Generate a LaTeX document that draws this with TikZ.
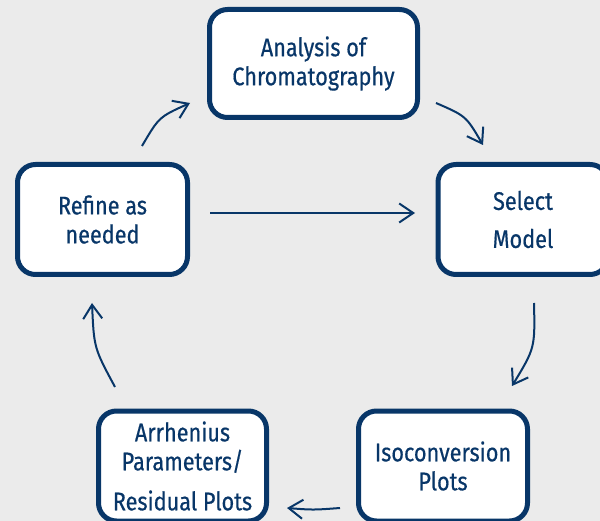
\documentclass[tikz,border=0pt]{standalone}
\usepackage{fontspec}
\setmainfont{Fira Sans}[FakeStretch=0.85,FakeBold=0.5]
\usetikzlibrary{arrows.meta}
\definecolor{navy}{RGB}{8,54,104}
\definecolor{bg}{RGB}{235,235,235}
\tikzset{
  box/.style={draw=navy, line width=5pt, rounded corners=18pt, fill=white,
    text=navy, align=center, font=\fontsize{25.5}{29}\selectfont, inner sep=0pt},
  flow/.style={draw=navy, line width=2pt, -{Straight Barb[length=14pt,width=19pt,line width=2pt]}}
}
\begin{document}
\begin{tikzpicture}[x=1pt,y=-1pt]
\fill[bg] (0,0) rectangle (600,521);
\useasboundingbox (0,0) rectangle (600,521);
\node[box, minimum width=208pt, minimum height=108pt] (analysis) at (313.5,63.5) {Analysis of\\Chromatography};
\node[box, minimum width=170pt, minimum height=110pt] (refine) at (102.5,219.5) {Refine as\\needed};
\node[box, minimum width=170pt, minimum height=110pt] (select) at (523,219.5) {Select\\[9pt]Model};
\node[box, minimum width=169pt, minimum height=110pt] (iso) at (443,466) {Isoconversion\\Plots};
\node[box, minimum width=168pt, minimum height=110pt] (arr) at (182.5,466) {Arrhenius\\Parameters/\\[11pt]Residual Plots};
\coordinate (a1s) at (142,146); \coordinate (a1e) at (190,103);
\coordinate (a2s) at (436,103); \coordinate (a2e) at (483,145);
\coordinate (a3s) at (534,303); \coordinate (a3e) at (512,386);
\coordinate (a4s) at (340,508); \coordinate (a4e) at (287,508);
\coordinate (a5s) at (115,387); \coordinate (a5e) at (92,303);
\coordinate (a6s) at (210,213); \coordinate (a6e) at (415,213);
\draw[flow] (a1s) .. controls (159,117) .. (a1e);
\draw[flow] (a2s) .. controls (466,116) .. (a2e);
\draw[flow] (a3s) .. controls (535,348) .. (a3e);
\draw[flow] (a4s) .. controls (313,510) .. (a4e);
\draw[flow] (a5s) .. controls (94,348) .. (a5e);
\draw[flow] (a6s) -- (a6e);
\end{tikzpicture}
\end{document}
